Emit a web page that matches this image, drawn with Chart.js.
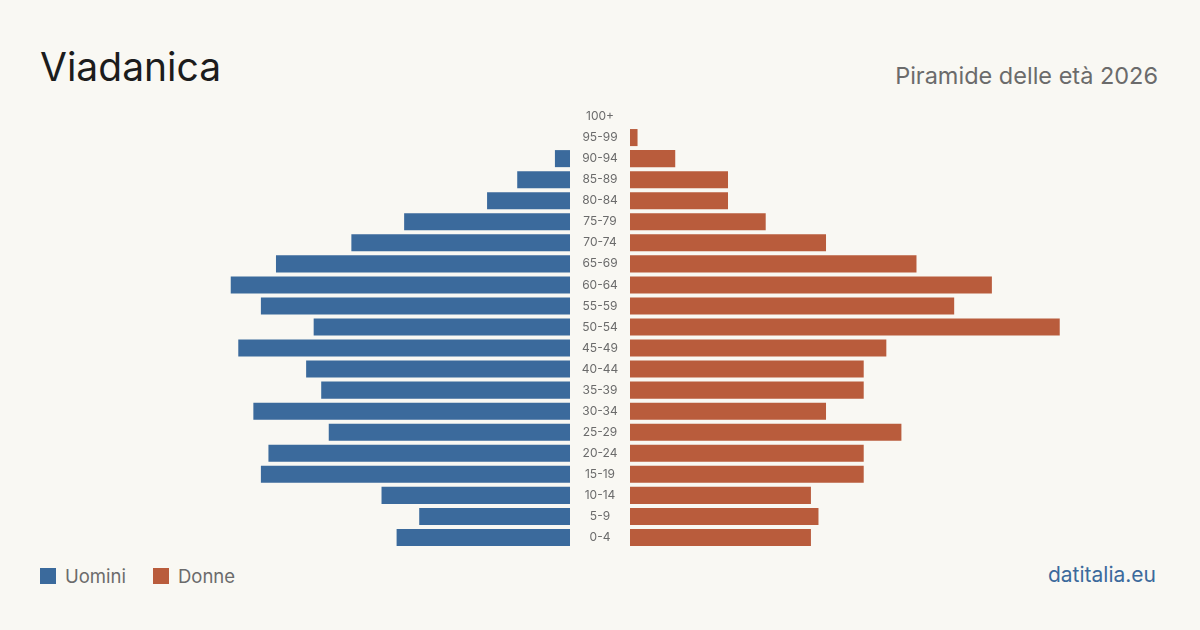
<!DOCTYPE html>
<html>
<head>
<meta charset="utf-8">
<script src="https://cdn.jsdelivr.net/npm/chart.js@4.4.1/dist/chart.umd.min.js"></script>
<style>
  html, body { margin: 0; padding: 0; }
  body { width: 1200px; height: 630px; background: #f9f8f3; position: relative; overflow: hidden; font-family: Inter, "Noto Sans", sans-serif; }
  .abs { position: absolute; line-height: 1; white-space: nowrap; }
  #title { left: 40px; top: 47px; font-size: 39px; color: #1c1c1c; }
  #subtitle { right: 42px; top: 64px; font-size: 23.5px; color: #6b6b6b; }
  #footer { right: 44px; top: 564px; font-size: 21px; color: #3c6a9c; }
  .leg { top: 567px; font-size: 18.5px; color: #6b6b6b; }
  .sw { position: absolute; width: 16px; height: 16px; top: 568px; }
  #leftBox { position: absolute; left: 40px; top: 106px; width: 530px; height: 442px; }
  #rightBox { position: absolute; left: 570px; top: 106px; width: 590px; height: 442px; }
</style>
</head>
<body>
<div id="title" class="abs">Viadanica</div>
<div id="subtitle" class="abs">Piramide delle età 2026</div>
<div class="sw" style="left:40px;background:#3b6a9c"></div>
<div class="abs leg" style="left:65px">Uomini</div>
<div class="sw" style="left:153px;background:#b95c3c"></div>
<div class="abs leg" style="left:178px">Donne</div>
<div id="footer" class="abs">datitalia.eu</div>
<div id="leftBox"><canvas id="left"></canvas></div>
<div id="rightBox"><canvas id="right"></canvas></div>
<script>
const ageGroups = ["100+","95-99","90-94","85-89","80-84","75-79","70-74","65-69","60-64","55-59","50-54","45-49","40-44","35-39","30-34","25-29","20-24","15-19","10-14","5-9","0-4"];
const uomini = [0,0,2,7,11,22,29,39,45,41,34,44,35,33,42,32,40,41,25,20,23];
const donne  = [0,1,6,13,13,18,26,38,48,43,57,34,31,31,26,36,31,31,24,25,24];
const seriesNames = ["Uomini","Donne"];
const axisMax = 70.3;

const blue = '#3b6a9c', orange = '#b95c3c';
const labelFont = '12px Inter, "Noto Sans", sans-serif';
const mctx = document.createElement('canvas').getContext('2d');
mctx.font = labelFont;
const widest = Math.max(...ageGroups.map(l => mctx.measureText(l).width));

const common = {
  indexAxis: 'y',
  responsive: true,
  maintainAspectRatio: false,
  animation: false,
  layout: { padding: 0 },
  plugins: { legend: { display: false }, tooltip: { enabled: false } },
};

new Chart(document.getElementById('left'), {
  type: 'bar',
  data: { labels: ageGroups, datasets: [{ label: seriesNames[0], data: uomini, backgroundColor: blue, barPercentage: 0.81, categoryPercentage: 1 }] },
  options: Object.assign({}, common, {
    scales: {
      x: { display: false, reverse: true, min: 0, max: axisMax },
      y: { display: false }
    }
  })
});

new Chart(document.getElementById('right'), {
  type: 'bar',
  data: { labels: ageGroups, datasets: [{ label: seriesNames[1], data: donne, backgroundColor: orange, barPercentage: 0.81, categoryPercentage: 1 }] },
  options: Object.assign({}, common, {
    scales: {
      x: { display: false, min: 0, max: axisMax },
      y: {
        position: 'left',
        border: { display: false },
        grid: { display: false, drawTicks: false },
        afterFit: (s) => { s.width = 60; s.paddingTop = 0; s.paddingBottom = 0; },
        ticks: { crossAlign: 'center', padding: 30 - widest / 2, color: '#6b6b6b', font: { family: 'Inter, "Noto Sans", sans-serif', size: 12 } }
      }
    }
  })
});
</script>
</body>
</html>
